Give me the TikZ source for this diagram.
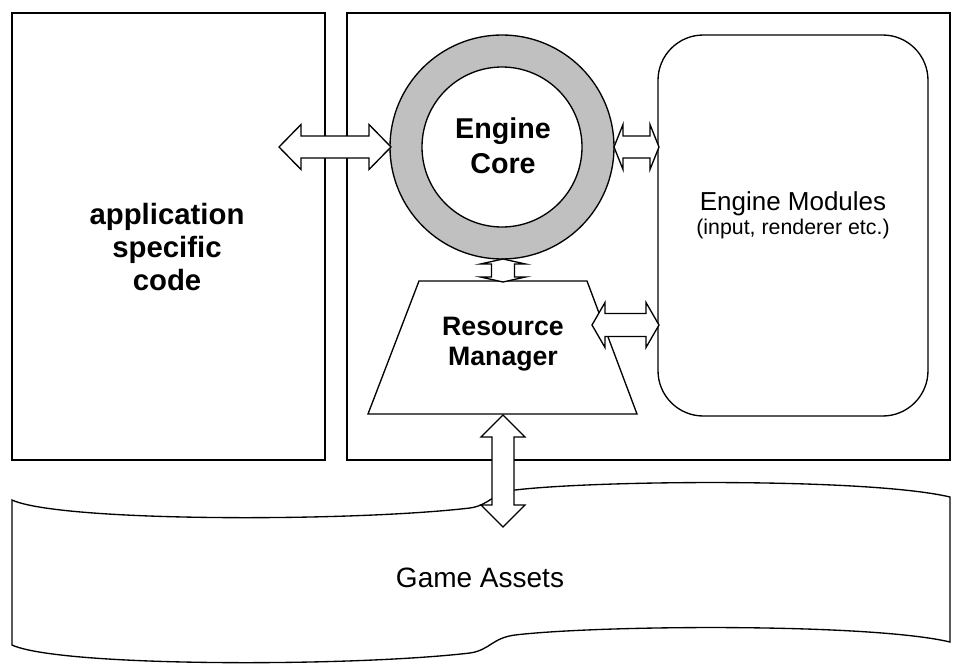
\documentclass[tikz,border=0pt]{standalone}
\usepackage{fontspec}
\setmainfont{Liberation Sans}
\usetikzlibrary{calc,fit}
\tikzset{
  outline/.style={draw=black, line width=1pt},
  blockarrow/.style={draw=black, fill=white, line width=1pt, line join=miter},
  lbl/.style={align=center, inner sep=0pt, text=black},
}
\newcommand{\harrowshape}[5]{%
  \draw[blockarrow] (#1) -- ($(#1)+(#5,-#4)$) -- ($(#1)+(#5,-#3)$) -- ($(#2)+(-#5,-#3)$) -- ($(#2)+(-#5,-#4)$) -- (#2) -- ($(#2)+(-#5,#4)$) -- ($(#2)+(-#5,#3)$) -- ($(#1)+(#5,#3)$) -- ($(#1)+(#5,#4)$) -- cycle;}
\newcommand{\varrowshape}[5]{%
  \draw[blockarrow] (#1) -- ($(#1)+(#4,#5)$) -- ($(#1)+(#3,#5)$) -- ($(#2)+(#3,-#5)$) -- ($(#2)+(#4,-#5)$) -- (#2) -- ($(#2)+(-#4,-#5)$) -- ($(#2)+(-#3,-#5)$) -- ($(#1)+(-#3,#5)$) -- ($(#1)+(-#4,#5)$) -- cycle;}
\begin{document}
\begin{tikzpicture}[x=0.75pt,y=-0.75pt]
\useasboundingbox (0,0) rectangle (958,668);
% corner coordinates
\coordinate (appNW) at (12,13);
\coordinate (appSE) at (325,460);
\coordinate (engNW) at (347,13);
\coordinate (engSE) at (950,460);
% boxes
\node[outline, fit=(appNW)(appSE), inner sep=0pt] (appbox) {};
\node[outline, fit=(engNW)(engSE), inner sep=0pt] (engbox) {};
% engine core ring
\coordinate (coreC) at (502,147);
\draw[outline, fill={rgb,255:red,192;green,192;blue,192}] (coreC) circle[radius=112];
\draw[outline, fill=white] (coreC) circle[radius=80];
% engine modules
\coordinate (modNW) at (658,35);
\coordinate (modSE) at (928,416);
\draw[outline, rounded corners=34pt] (modNW) rectangle (modSE);
% resource manager trapezoid
\coordinate (rmTL) at (419,281);
\coordinate (rmTR) at (587,281);
\coordinate (rmBR) at (637,414);
\coordinate (rmBL) at (368,414);
\draw[outline, line join=miter] (rmTL) -- (rmTR) -- (rmBR) -- (rmBL) -- cycle;
% game assets (tape shape)
\draw[outline] (12,500) .. controls (60,522) and (350,522) .. (470,508)
  .. controls (490,505) and (492,493) .. (515,490)
  .. controls (600,480) and (870,478) .. (950,497)
  -- (950,642)
  .. controls (870,623) and (600,625) .. (515,635)
  .. controls (492,638) and (490,650) .. (470,653)
  .. controls (350,667) and (60,667) .. (12,645) -- cycle;
% arrow end points
\coordinate (a1L) at (279,147);
\coordinate (a1R) at (391,147);
\coordinate (a2L) at (614,147);
\coordinate (a2R) at (659,147);
\coordinate (a3L) at (592,325);
\coordinate (a3R) at (659,325);
\coordinate (a4T) at (503,259);
\coordinate (a4B) at (503,282);
\coordinate (a5T) at (503,415);
\coordinate (a5B) at (503,527);
% block arrows
\harrowshape{a1L}{a1R}{11}{22.5}{22}
\harrowshape{a2L}{a2R}{11}{22.5}{9}
\harrowshape{a3L}{a3R}{11.5}{22.5}{13}
\varrowshape{a4T}{a4B}{11.5}{22.5}{5}
\varrowshape{a5T}{a5B}{11}{22}{22}
% labels
\node[lbl, font=\bfseries\fontsize{22}{25}\selectfont] (app) at (167,247) {application\\specific\\code};
\node[lbl, font=\bfseries\fontsize{21.5}{26}\selectfont] (core) at (503,146) {Engine\\Core};
\node[lbl, font=\bfseries\fontsize{20}{22.5}\selectfont] (rm) at (503,344) {Resource\\Manager};
\node[lbl, font=\fontsize{19.5}{22}\selectfont] (mod) at (793,204) {Engine Modules};
\node[lbl, font=\fontsize{16}{18}\selectfont] (modsub) at (793,229) {(input, renderer etc.)};
\node[lbl, font=\fontsize{21}{24}\selectfont] (assets) at (480,578) {Game Assets};
\end{tikzpicture}
\end{document}
